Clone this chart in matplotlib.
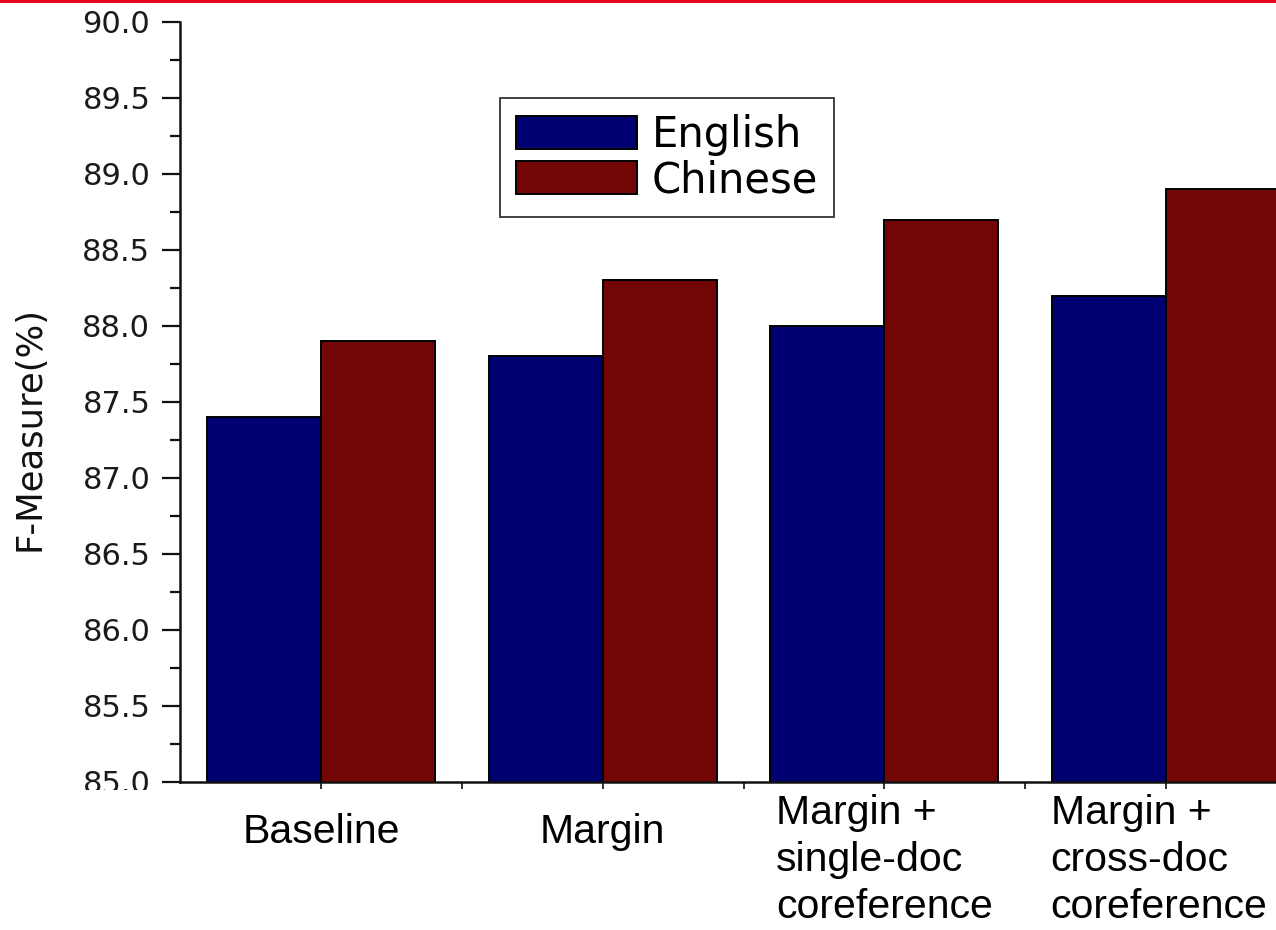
import numpy as np
import matplotlib
matplotlib.use("Agg")
import matplotlib.pyplot as plt
from matplotlib.ticker import MultipleLocator, FormatStrFormatter, FixedLocator
from matplotlib.transforms import ScaledTranslation
from matplotlib.lines import Line2D
from matplotlib.patches import Rectangle

# ---- data -------------------------------------------------------------
categories = ["Baseline", "Margin",
              "Margin +\nsingle-doc\ncoreference",
              "Margin +\ncross-doc\ncoreference"]
series_names = ["English", "Chinese"]
english = [87.4, 87.8, 88.0, 88.2]
chinese = [87.9, 88.3, 88.7, 88.9]
y_label = "F-Measure(%)"

# ---- style -------------------------------------------------------------
plt.rcParams["font.family"] = ["DejaVu Sans"]
BLUE = "#000070"
WINE = "#740505"
W, H, DPI = 1276, 930, 100

fig = plt.figure(figsize=(W / DPI, H / DPI), dpi=DPI)
fig.patch.set_facecolor("white")

# axes box in pixels: left spine at x=180, bottom at y=782, top at y=22;
# the right end runs past the figure edge
left_px, right_px, top_px, bottom_px = 180.2, 1306.8, 22, 782
ax = fig.add_axes([left_px / W, 1 - bottom_px / H,
                   (right_px - left_px) / W, (bottom_px - top_px) / H])

x = np.arange(len(categories))
bw = 0.405
ax.bar(x - bw / 2, english, bw, color=BLUE, edgecolor="black",
       linewidth=1.4, label=series_names[0], zorder=2)
ax.bar(x + bw / 2, chinese, bw, color=WINE, edgecolor="black",
       linewidth=1.4, label=series_names[1], zorder=2)

ax.set_xlim(-0.5, 3.5)
ax.set_ylim(85.0, 90.0)

for side in ("top", "right"):
    ax.spines[side].set_visible(False)
for side in ("left", "bottom"):
    ax.spines[side].set_linewidth(1.8)
    ax.spines[side].set_color("#111111")
    ax.spines[side].set_zorder(3)

# y axis ticks
ax.yaxis.set_major_locator(MultipleLocator(0.5))
ax.yaxis.set_minor_locator(MultipleLocator(0.25))
ax.yaxis.set_major_formatter(FormatStrFormatter("%.1f"))
ax.tick_params(axis="y", which="major", direction="out", length=13,
               width=1.6, pad=8.5, labelsize=22, colors="#111111")
ax.tick_params(axis="y", which="minor", direction="out", length=7,
               width=1.6, colors="#111111")
for t in ax.get_yticklabels():
    t.set_color("#1a1a1a")

# x axis ticks: category centres (labelled) and group boundaries
ax.set_xticks(x)
ax.set_xticklabels(categories, fontfamily="Liberation Sans", fontsize=29.5,
                   linespacing=1.3)
ax.xaxis.set_minor_locator(FixedLocator(x[:-1] + 0.5))
ax.tick_params(axis="x", which="both", direction="out", length=5,
               width=1.2, colors="#111111", pad=3.5)
for t in ax.get_xticklabels():
    t.set_color("black")
    t.set_multialignment("left")

# single-line labels sit lower; last label nudged left
label_shift_px = [(0, 19), (0, 19), (0, 0), (-7, 0)]
for t, (dx, dy) in zip(ax.get_xticklabels(), label_shift_px):
    t.set_transform(t.get_transform() +
                    ScaledTranslation(dx / DPI, -dy / DPI, fig.dpi_scale_trans))

ax.set_ylabel(y_label, fontsize=25.5, color="#111111")
ax.yaxis.set_label_coords(-0.119, 0.465)

leg = ax.legend(loc="upper left",
                bbox_to_anchor=(500 / W, 1 - 98 / H),
                bbox_transform=fig.transFigure, borderaxespad=0,
                fontsize=30, frameon=True, fancybox=False, shadow=False,
                handlelength=2.9, handleheight=0.82, handletextpad=0.36,
                labelspacing=0.08, borderpad=0.38)
leg.get_frame().set_edgecolor("#333333")
leg.get_frame().set_linewidth(1.3)
leg.get_frame().set_alpha(1)

# thin red rule across the top edge
fig.add_artist(Line2D([0, 1], [1 - 1.2 / H, 1 - 1.2 / H],
                      transform=fig.transFigure, color="#e3001b", lw=2.2))
# white band trimming the foot of the lowest y label
fig.add_artist(Rectangle((60 / W, 1 - 802 / H), 110 / W, 12 / H,
                         transform=fig.transFigure, facecolor="white",
                         edgecolor="none", zorder=5))

fig.savefig("out.png", dpi=DPI, facecolor="white")
